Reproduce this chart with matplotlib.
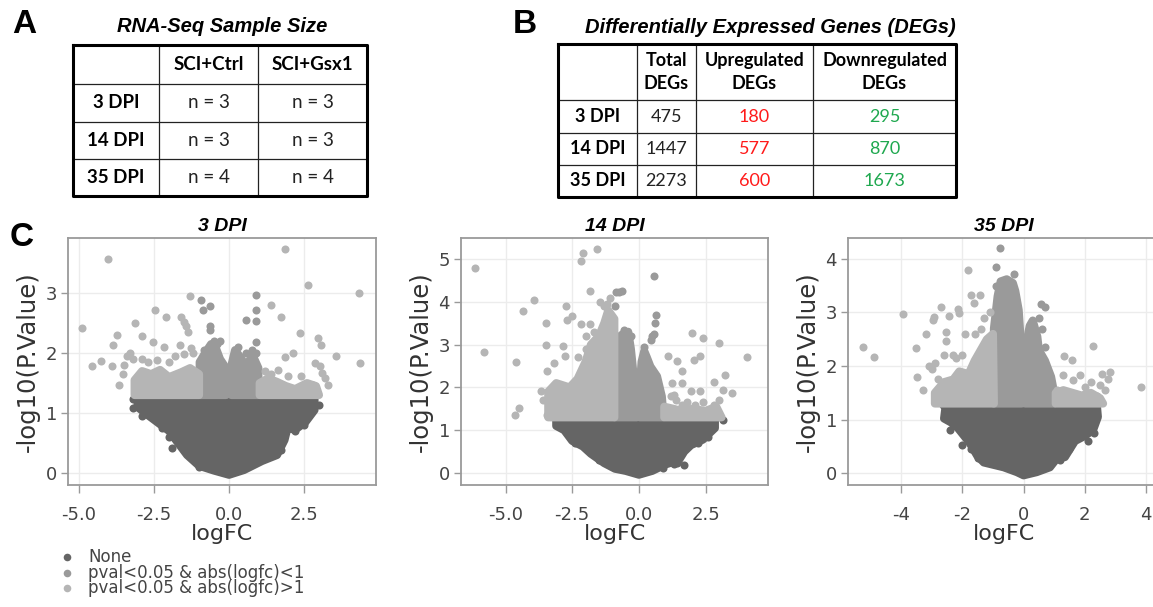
import matplotlib.pyplot as plt

W, H = 1153, 607

# ---------------- panel A / B tables ----------------
sample_rows = ['3 DPI', '14 DPI', '35 DPI']
sample_cols = ['SCI+Ctrl', 'SCI+Gsx1']
n_ctrl = [3, 3, 4]
n_gsx1 = [3, 3, 4]

deg_rows = ['3 DPI', '14 DPI', '35 DPI']
deg_cols = ['Total\nDEGs', 'Upregulated\nDEGs', 'Downregulated\nDEGs']
deg_total = [475, 1447, 2273]
deg_up = [180, 577, 600]
deg_down = [295, 870, 1673]

# ---------------- panel C volcano plots ----------------
titles = ['3 DPI', '14 DPI', '35 DPI']
categories = ['None', 'pval<0.05 & abs(logfc)<1', 'pval<0.05 & abs(logfc)>1']

# 3 DPI : outline of the dense clouds (logFC, -log10 p) and separate points
d3_none_x = [-3.05, 2.85, 2.85, 2.55, 2.2, 1.95, 1.85, 1.6, 1.1, 0.5, 0.0, -0.5, -1.0, -1.4, -1.7, -2.0, -2.4, -2.8, -3.05]
d3_none_y = [1.27, 1.27, 1.05, 0.85, 0.72, 0.75, 0.55, 0.3, 0.2, 0.05, -0.03, 0.04, 0.12, 0.3, 0.5, 0.7, 0.85, 1.0, 1.1]
d3_none_px = [-1.89, -2.23, 1.74, 2.77, 3.0, -3.2, -3.2, -2.9, -2.0, 1.35, 2.2, 2.5, -1.0]
d3_none_py = [0.42, 0.75, 0.39, 1.03, 1.14, 1.08, 1.23, 0.95, 0.6, 0.45, 0.7, 0.8, 0.1]
d3_mid_x = [[-0.98, -0.98, -0.8, -0.6, -0.45, -0.3, -0.1, -0.1],
            [0.08, 0.08, 0.2, 0.35, 0.55, 0.8, 0.98, 0.98]]
d3_mid_y = [[1.3, 1.85, 2.0, 2.15, 2.1, 1.9, 1.75, 1.3],
            [1.3, 1.8, 2.05, 1.95, 1.8, 1.95, 1.75, 1.3]]
d3_mid_px = [-0.94, 0.91, 0.58, -0.64, -0.87, -0.62, -0.65, -0.31, 0.3, 0.91, 0.89, 0.91, -0.5, -0.4, 0.55, 0.75, -0.85, 0.9]
d3_mid_py = [2.89, 2.97, 2.56, 2.78, 2.72, 2.45, 2.38, 2.21, 2.11, 2.72, 2.53, 2.19, 2.2, 2.15, 2.0, 2.05, 2.05, 2.0]
d3_big_x = [[-3.15, -3.15, -2.9, -2.6, -2.3, -2.0, -1.6, -1.3, -1.0, -1.0],
            [1.02, 1.02, 1.3, 1.6, 1.9, 2.2, 2.6, 2.9, 3.0]]
d3_big_y = [[1.3, 1.55, 1.7, 1.65, 1.72, 1.6, 1.68, 1.75, 1.65, 1.3],
            [1.3, 1.5, 1.58, 1.52, 1.45, 1.4, 1.5, 1.45, 1.3]]
d3_big_px = [-4.03, 1.86, -4.89, 4.33, 2.63, 4.36, -1.31, 1.41, 1.74, -2.46, -3.12, -3.73, -3.87, -4.57, -4.26,
             -3.89, -3.67, 2.38, 2.13, 2.97, 3.08, 3.56, 3.3, 1.86, -2.09, -1.6, -1.5, -1.45, -1.38, -2.89, -2.53,
             -2.18, -1.64, -1.26, -3.4, -3.3, -3.2, -3.5, -3.55, -2.9, -2.7, -2.4, -2.0, -1.8, -1.5, -1.2, 1.63,
             1.97, 2.41, 2.86, 3.02, 3.11, 3.19, 2.8, 1.2, 1.4]
d3_big_py = [3.57, 3.73, 2.42, 3.0, 3.14, 1.84, 2.96, 2.81, 2.6, 2.72, 2.5, 2.31, 2.14, 1.79, 1.87,
             1.78, 1.46, 2.34, 2.01, 2.26, 2.14, 1.96, 1.47, 1.94, 2.6, 2.6, 2.52, 2.45, 2.35, 2.29, 2.19,
             2.11, 2.14, 2.08, 1.95, 2.0, 1.9, 1.8, 1.65, 1.9, 1.85, 1.88, 1.85, 1.95, 1.98, 2.0, 1.72,
             1.61, 1.61, 1.83, 1.78, 1.67, 1.58, 1.47, 1.7, 1.65]

# 14 DPI
d14_none_x = [-3.1, 2.85, 2.85, 2.6, 2.4, 1.95, 1.7, 1.5, 1.0, 0.5, 0.0, -0.5, -0.9, -1.3, -1.8, -2.1, -2.5, -2.8, -3.1]
d14_none_y = [1.22, 1.22, 1.05, 0.9, 0.78, 0.65, 0.5, 0.3, 0.2, 0.05, -0.04, 0.05, 0.1, 0.23, 0.45, 0.62, 0.75, 1.0, 1.1]
d14_none_px = [3.15, 1.43, 1.7, -2.4, 2.2, 2.6, 1.3, -1.5, 0.9]
d14_none_py = [1.23, 0.23, 0.18, 0.7, 0.7, 0.85, 0.2, 0.3, 0.12]
d14_mid_x = [[-0.9, -0.9, -0.8, -0.6, -0.4, -0.3, -0.2, -0.1, -0.08],
             [0.03, 0.03, 0.1, 0.2, 0.3, 0.43, 0.68, 0.86, 0.9, 0.9]]
d14_mid_y = [[1.3, 2.9, 3.15, 3.25, 3.3, 2.9, 2.3, 1.9, 1.3],
             [1.3, 2.0, 2.6, 2.85, 2.7, 2.49, 2.26, 1.79, 1.5, 1.3]]
d14_mid_px = [0.61, 0.65, 0.58, 0.55, 0.5, 0.45, 0.2, -0.85, -0.76, -0.64, -0.89, -0.55, -0.3]
d14_mid_py = [3.5, 3.7, 4.6, 3.25, 3.2, 3.1, 2.95, 4.22, 4.24, 4.26, 3.89, 3.35, 3.2]
d14_big_x = [[-3.4, -3.4, -3.1, -2.6, -2.3, -2.0, -1.8, -1.5, -1.3, -1.15, -0.92, -0.92],
             [0.95, 0.95, 1.3, 1.6, 2.0, 2.5, 2.9, 3.1]]
d14_big_y = [[1.3, 1.9, 2.1, 2.0, 2.2, 2.6, 3.0, 3.2, 3.5, 3.8, 3.6, 1.3],
             [1.3, 1.55, 1.5, 1.45, 1.5, 1.45, 1.55, 1.3]]
d14_big_px = [-6.16, -5.8, -4.61, -4.49, -4.65, -4.35, -3.95, -3.49, -3.49, -3.45, -3.2, -2.73, -2.51, -2.7,
              -2.86, -2.76, -2.18, -2.08, -1.58, -1.83, -2.18, -1.83, -1.45, -1.08, 1.09, 1.43, 1.99, 2.39,
              2.99, 4.05, 2.07, 2.3, 2.8, 3.24, 3.49, 3.17, 1.61, 1.61, 1.24, 1.3, 1.96, 2.3, -3.68, -3.58,
              -3.45, -1.3, -1.2, -2.0, -2.3, -2.0, -1.7, 1.6, 1.8, 2.1, 2.4, 2.8, 3.0, 1.2, 1.4]
d14_big_py = [4.79, 2.82, 2.59, 1.53, 1.35, 3.78, 4.03, 3.5, 3.0, 2.38, 2.57, 3.89, 3.66, 3.58,
              2.96, 2.73, 4.96, 5.14, 5.23, 4.26, 3.48, 3.47, 3.99, 4.1, 2.73, 2.61, 3.27, 3.15,
              3.04, 2.72, 2.65, 2.73, 2.12, 2.3, 1.87, 1.95, 2.38, 2.1, 2.1, 1.83, 1.91, 1.91, 1.91, 1.71,
              1.36, 3.9, 3.95, 3.2, 2.7, 2.9, 3.3, 1.6, 1.65, 1.6, 1.65, 1.6, 1.7, 1.8, 1.7]

# 35 DPI
d35_none_x = [-2.55, 2.4, 2.43, 2.27, 1.95, 1.68, 1.35, 1.08, 0.86, 0.43, 0.0, -0.22, -0.65, -1.3, -1.51, -1.78, -1.95, -2.16, -2.38, -2.6]
d35_none_y = [1.25, 1.25, 1.05, 0.8, 0.68, 0.6, 0.3, 0.27, 0.11, 0.02, -0.04, 0.02, 0.11, 0.2, 0.32, 0.58, 0.7, 0.85, 0.95, 1.02]
d35_none_px = [-2.4, -2.0, -2.65, -1.48, -1.71, 2.3, 2.1, 1.5, 1.2]
d35_none_py = [0.81, 0.52, 1.27, 0.28, 0.46, 0.75, 0.6, 0.45, 0.25]
d35_mid_x = [[-0.97, -0.97, -0.85, -0.75, -0.55, -0.35, -0.27, -0.16, -0.09, -0.06],
             [0.05, 0.08, 0.2, 0.3, 0.45, 0.5, 0.7, 0.9, 1.0, 1.0]]
d35_mid_y = [[1.3, 2.7, 3.3, 3.58, 3.62, 3.55, 3.4, 3.05, 2.45, 1.3],
             [1.3, 2.4, 2.75, 2.85, 2.55, 2.3, 2.1, 1.8, 1.5, 1.3]]
d35_mid_px = [-0.89, -0.78, -0.32, 0.56, 0.7, 0.6, 0.7, -0.9, 0.5]
d35_mid_py = [3.84, 4.21, 3.71, 3.16, 3.11, 2.7, 2.35, 3.5, 2.9]
d35_big_x = [[-2.9, -2.9, -2.6, -2.3, -2.1, -1.8, -1.6, -1.4, -1.2, -1.0, -0.97],
             [1.05, 1.05, 1.3, 1.6, 1.9, 2.2, 2.5, 2.6]]
d35_big_y = [[1.3, 1.5, 1.7, 1.75, 1.9, 1.85, 2.1, 2.3, 2.5, 2.6, 1.3],
             [1.3, 1.5, 1.55, 1.5, 1.45, 1.5, 1.4, 1.3]]
d35_big_px = [-5.24, -4.9, -3.95, -3.49, -3.51, -3.19, -2.97, -2.92, -2.7, -2.45, -2.16, -2.1, -2.54, -2.54,
              -1.82, -1.71, -1.43, -1.62, 2.27, 3.84, 1.32, 1.57, 2.81, 2.57, 1.84, 1.6, 1.3, -3.1, -3.0,
              -2.9, -2.8, -2.3, -2.2, -2.0, -1.9, -1.6, -1.4, -1.3, -1.1, -2.6, -3.3, 2.0, 2.2, 2.5, 2.65,
              2.75, 2.4, 1.1, 1.5]
d35_big_py = [2.36, 2.16, 2.97, 1.8, 2.33, 2.59, 2.86, 2.91, 3.11, 2.93, 3.06, 2.99, 2.64, 2.46,
              3.8, 3.33, 3.33, 3.18, 2.38, 1.61, 2.18, 2.11, 1.89, 1.86, 1.83, 1.74, 1.83, 2.0, 1.95,
              2.05, 1.75, 2.2, 2.15, 2.2, 2.6, 2.6, 2.7, 2.9, 3.0, 2.2, 1.55, 1.6, 1.7, 1.65, 1.55,
              1.75, 1.45, 1.55, 1.5]

x_ticks = [[-5.0, -2.5, 0.0, 2.5], [-5.0, -2.5, 0.0, 2.5], [-4, -2, 0, 2, 4]]
x_ticklabels = [['-5.0', '-2.5', '0.0', '2.5'], ['-5.0', '-2.5', '0.0', '2.5'], ['-4', '-2', '0', '2', '4']]
y_ticks = [[0, 1, 2, 3], [0, 1, 2, 3, 4, 5], [0, 1, 2, 3, 4]]

panels = [
    (d3_none_x, d3_none_y, d3_none_px, d3_none_py, d3_mid_x, d3_mid_y, d3_mid_px, d3_mid_py,
     d3_big_x, d3_big_y, d3_big_px, d3_big_py),
    (d14_none_x, d14_none_y, d14_none_px, d14_none_py, d14_mid_x, d14_mid_y, d14_mid_px, d14_mid_py,
     d14_big_x, d14_big_y, d14_big_px, d14_big_py),
    (d35_none_x, d35_none_y, d35_none_px, d35_none_py, d35_mid_x, d35_mid_y, d35_mid_px, d35_mid_py,
     d35_big_x, d35_big_y, d35_big_px, d35_big_py),
]

colors = ['#656565', '#9a9a9a', '#b5b5b5']
MS = 5.8  # marker diameter in points

# pixel boxes of the three plots (left, right, top, bottom) and their data limits
boxes = [(68, 376, 238, 485), (461, 768, 238, 485), (848, 1160, 238, 485)]
xlims = [(-5.37, 4.9), (-6.67, 4.84), (-5.74, 4.46)]
ylims = [(-0.2, 3.92), (-0.28, 5.49), (-0.22, 4.39)]

fig = plt.figure(figsize=(W / 100, H / 100), dpi=100)

# background axes in pixel units for tables, letters and legend
bg = fig.add_axes([0, 0, 1, 1])
bg.set_xlim(0, W)
bg.set_ylim(H, 0)
bg.axis('off')

TF = ['Lato', 'DejaVu Sans']


def draw_table(ax, cols, rows, header, row_labels, cells, cell_colors, fs):
    for c in cols[1:-1]:
        ax.plot([c, c], [rows[0], rows[-1]], color='#222', lw=0.9)
    for r in rows[1:-1]:
        ax.plot([cols[0], cols[-1]], [r, r], color='#222', lw=0.9)
    ax.plot([cols[0], cols[-1], cols[-1], cols[0], cols[0]],
            [rows[0], rows[0], rows[-1], rows[-1], rows[0]], color='black', lw=2.2)
    for j, h in enumerate(header):
        ax.text((cols[j + 1] + cols[j + 2]) / 2, (rows[0] + rows[1]) / 2, h, ha='center', va='center',
                fontsize=fs, fontweight='bold', family=TF, linespacing=1.45)
    for i, lab in enumerate(row_labels):
        yc = (rows[i + 1] + rows[i + 2]) / 2
        ax.text((cols[0] + cols[1]) / 2, yc, lab, ha='center', va='center', fontsize=fs,
                fontweight='bold', family=TF)
        for j in range(len(header)):
            ax.text((cols[j + 1] + cols[j + 2]) / 2, yc, cells[j][i], ha='center', va='center',
                    fontsize=fs, color=cell_colors[j], family=TF)


# panel A
bg.text(12, 33, 'A', fontsize=24, fontweight='bold', family='Liberation Sans')
bg.text(222, 32, 'RNA-Seq Sample Size', ha='center', fontsize=14.5, fontweight='bold',
        style='italic', family='Liberation Sans')
draw_table(bg, [73, 159, 258, 367], [45, 84, 122, 159, 196], sample_cols, sample_rows,
           [['n = %d' % v for v in n_ctrl], ['n = %d' % v for v in n_gsx1]],
           ['#222', '#222'], 13.5)

# panel B
bg.text(513, 33, 'B', fontsize=24, fontweight='bold', family='Liberation Sans')
bg.text(770, 33, 'Differentially Expressed Genes (DEGs)', ha='center', fontsize=14.5,
        fontweight='bold', style='italic', family='Liberation Sans')
draw_table(bg, [558, 637, 696, 813, 956], [44, 100, 133, 165, 197], deg_cols, deg_rows,
           [[str(v) for v in deg_total], [str(v) for v in deg_up], [str(v) for v in deg_down]],
           ['#222', '#ff1a1a', '#1fa84f'], 13)

# panel C
bg.text(10, 246, 'C', fontsize=24, fontweight='bold', family='Liberation Sans')

for k, (box, data) in enumerate(zip(boxes, panels)):
    l, r, t, b = box
    ax = fig.add_axes([l / W, (H - b) / H, (r - l) / W, (b - t) / H])
    (nx, ny, npx, npy, mx, my, mpx, mpy, bx, by, bpx, bpy) = data

    ax.fill(nx, ny, color=colors[0], lw=MS, joinstyle='round', zorder=2)
    ax.scatter(npx, npy, s=MS ** 2, color=colors[0], lw=0, zorder=2)
    for xs, ys in zip(mx, my):
        ax.fill(xs, ys, color=colors[1], lw=MS, joinstyle='round', zorder=3)
    ax.scatter(mpx, mpy, s=MS ** 2, color=colors[1], lw=0, zorder=3)
    for xs, ys in zip(bx, by):
        ax.fill(xs, ys, color=colors[2], lw=MS, joinstyle='round', zorder=4)
    ax.scatter(bpx, bpy, s=MS ** 2, color=colors[2], lw=0, zorder=4)

    ax.set_xlim(*xlims[k])
    ax.set_ylim(*ylims[k])
    ax.set_xticks(x_ticks[k])
    ax.set_xticklabels(x_ticklabels[k])
    ax.set_yticks(y_ticks[k])
    ax.grid(True, color='#ececec', lw=1)
    ax.set_axisbelow(True)
    for s in ax.spines.values():
        s.set_color('#9a9a9a')
        s.set_linewidth(1.3)
    ax.tick_params(axis='x', length=6, width=1, color='#9a9a9a', pad=9, labelsize=13,
                   labelcolor='#444')
    ax.tick_params(axis='y', length=5, width=1, color='#9a9a9a', pad=3, labelsize=13,
                   labelcolor='#444')
    ax.set_xlabel('logFC', fontsize=16, color='#333', labelpad=0)
    ax.set_ylabel('-log10(P.Value)', fontsize=17.5, color='#333', labelpad=4)
    ax.set_title(titles[k], fontsize=14, fontweight='bold', style='italic',
                 family='Liberation Sans', pad=5)

# legend
for i, (lab, c) in enumerate(zip(categories, colors)):
    yy = 557 + 15.7 * i
    bg.scatter([67], [yy], s=30, color=c, lw=0)
    bg.text(88, yy, lab, va='center', fontsize=12, color='#444')

fig.savefig('out.png', dpi=100)
